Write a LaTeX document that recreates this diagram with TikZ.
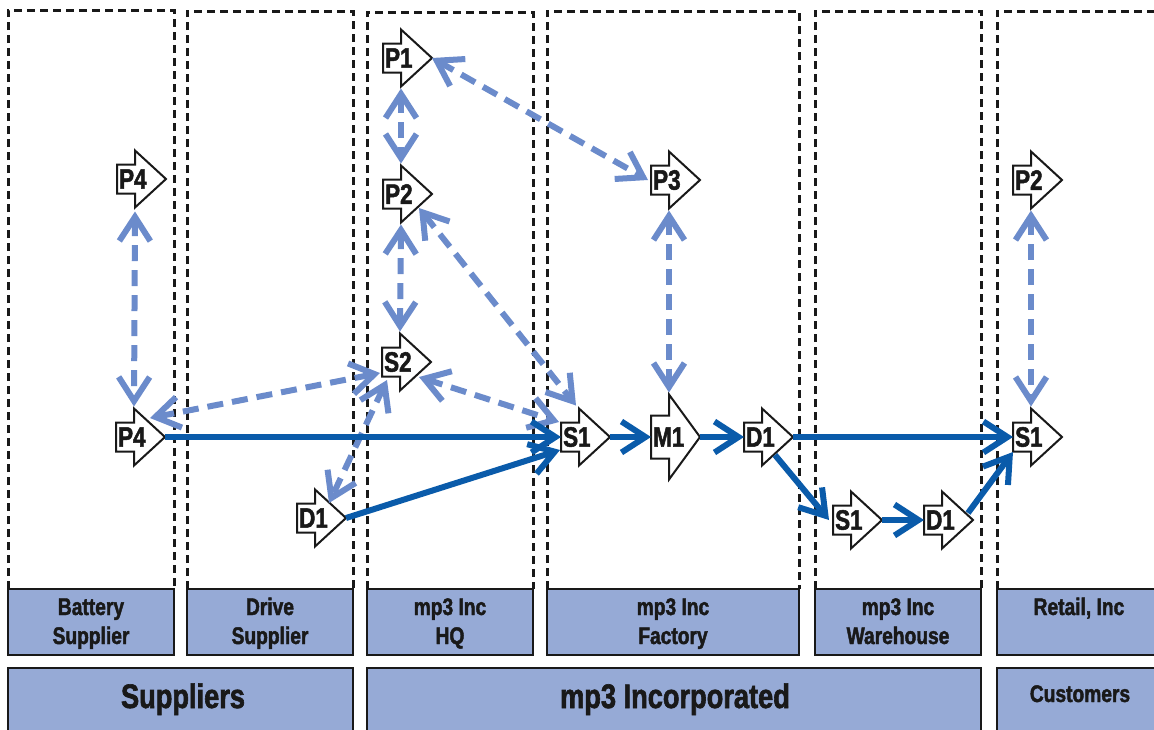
\documentclass[tikz,border=0pt]{standalone}
\usepackage{fontspec}
\usetikzlibrary{arrows.meta,calc}
\newfontfamily\condfont[FakeStretch=0.80,FakeBold=1.8]{Liberation Sans}

\definecolor{lane}{HTML}{96AAD6}
\definecolor{flowdark}{HTML}{0A5BAA}
\definecolor{flowlight}{HTML}{6B8BCB}

\tikzset{
  column/.style={draw=black!90, line width=3pt, dash pattern=on 8pt off 5pt},
  lanebox/.style={draw=black!90, line width=2.8pt, fill=lane},
  lab/.style={font=\condfont\bfseries\fontsize{24}{24}\selectfont, anchor=base, inner sep=0pt, text=black!90},
  biglab/.style={font=\condfont\bfseries\fontsize{34}{34}\selectfont, anchor=base, inner sep=0pt, text=black!90},
  procbox/.style={minimum width=49pt, minimum height=57pt, inner sep=0pt, outer sep=0pt},
  proctext/.style={font=\condfont\bfseries\fontsize{28}{28}\selectfont, anchor=west, inner sep=0pt, text=black!90},
  procline/.style={draw=black!90, fill=white, line width=2pt, line join=miter},
  barb/.tip={Straight Barb[length=24pt, width=31pt, sharp]},
  mainflow/.style={draw=flowdark, line width=6pt, -barb},
  infoflow/.style={draw=flowlight, line width=6pt, dash pattern=on 16pt off 9pt, barb-barb},
}

% process symbol: #1 head half height, #2 body half height, #3 name, #4 centre, #5 text
\newcommand\proc[5]{%
  \node[procbox, minimum height=2*#1 pt] (#3) at (#4) {};
  \draw[procline] ($(#3.west)+(0,-#2)$) -- ($(#3.west)+(18,-#2)$) -- ($(#3.west)+(18,-#1)$)
    -- (#3.east) -- ($(#3.west)+(18,#1)$) -- ($(#3.west)+(18,#2)$) -- ($(#3.west)+(0,#2)$) -- cycle;
  \node[proctext] (#3-t) at ($(#3.west)+(2,0)$) {#5};
  \coordinate (#3-n) at ($(#3.west)+(18,-#1)$);
  \coordinate (#3-s) at ($(#3.west)+(18,#1)$);
}

\begin{document}
\begin{tikzpicture}[x=1pt, y=-1pt]
\useasboundingbox (0,0) rectangle (1154,729);
\clip (0,0) rectangle (1154,729);

% swim lanes
\draw[column] (8,589) -- (8,10) -- (174,10) -- (174,589);
\draw[column] (187,589) -- (187,11) -- (353,11) -- (353,589);
\draw[column] (367,589) -- (367,12) -- (533,12) -- (533,589);
\draw[column] (547,589) -- (547,11) -- (799,11) -- (799,589);
\draw[column] (815,589) -- (815,11) -- (981,11) -- (981,589);
\draw[column] (997,589) -- (997,11) -- (1170,11);

% lane titles
\draw[lanebox] (8,589) rectangle (174,655);
\draw[lanebox] (187,589) rectangle (353,655);
\draw[lanebox] (367,589) rectangle (533,655);
\draw[lanebox] (547,589) rectangle (799,655);
\draw[lanebox] (815,589) rectangle (981,655);
\draw[lanebox] (997,589) rectangle (1170,655);
\node[lab] (t1a) at (91,615) {Battery};
\node[lab] (t1b) at (91,644) {Supplier};
\node[lab] (t2a) at (270,615) {Drive};
\node[lab] (t2b) at (270,644) {Supplier};
\node[lab] (t3a) at (450,615) {mp3 Inc};
\node[lab] (t3b) at (450,644) {HQ};
\node[lab] (t4a) at (673,615) {mp3 Inc};
\node[lab] (t4b) at (673,644) {Factory};
\node[lab] (t5a) at (898,615) {mp3 Inc};
\node[lab] (t5b) at (898,644) {Warehouse};
\node[lab] (t6a) at (1079,615) {Retail, Inc};

% organisations
\draw[lanebox] (8,668) rectangle (353,740);
\draw[lanebox] (367,668) rectangle (981,740);
\draw[lanebox] (997,668) rectangle (1170,740);
\node[biglab] (o1) at (183,708) {Suppliers};
\node[biglab] (o2) at (675,708) {mp3 Incorporated};
\node[lab] (o3) at (1080,702) {Customers};

% process steps
\proc{28.5}{14.5}{bP4a}{141.5,179}{P4}
\proc{28.5}{14.5}{bP4b}{140.5,437}{P4}
\proc{28.5}{14.5}{dD1}{321.5,518}{D1}
\proc{28.5}{14.5}{hP1}{407.5,58}{P1}
\proc{28.5}{14.5}{hP2}{407.5,194}{P2}
\proc{28.5}{14.5}{hS2}{406.5,362}{S2}
\proc{28.5}{14.5}{fP3}{675.5,180}{P3}
\proc{28.5}{14.5}{fS1}{585.5,437}{S1}
\proc{42.5}{21.5}{fM1}{675.5,437}{M1}
\proc{28.5}{14.5}{fD1}{768.5,437}{D1}
\proc{28.5}{14.5}{wS1}{857.5,520}{S1}
\proc{28.5}{14.5}{wD1}{948.5,520}{D1}
\proc{28.5}{14.5}{rS1}{1037.5,437}{S1}
\proc{28.5}{14.5}{rP2}{1037.5,180}{P2}

% planning and sourcing links
\draw[infoflow] ($(bP4a-s)+(0,4)$) -- ($(bP4b-n)+(0,-2)$);
\draw[infoflow] ($(hP1-s)+(0,2)$) -- ($(hP2-n)+(0,-2)$);
\draw[infoflow] (hP1.east) -- ($(fP3.west)+(-3,0)$);
\draw[infoflow] ($(hP2-s)+(0,2)$) -- ($(hS2-n)+(0,-2)$);
\draw[infoflow] ($(hP2.east)+(-13,14)$) -- ($(fS1-n)+(-3,-3)$);
\draw[infoflow] ($(hS2.east)+(-12,15)$) -- ($(fS1.west)+(-2,-15)$);
\draw[infoflow] ($(bP4b.east)+(-15,-19)$) -- ($(hS2.west)+(-2,11)$);
\draw[infoflow] ($(hS2.west)+(5,18)$) -- ($(dD1.east)+(-17,-15)$);
\draw[infoflow] ($(fP3-s)+(0,2)$) -- ($(fM1-n)+(0,-2)$);
\draw[infoflow] ($(rP2-s)+(0,2)$) -- ($(rS1-n)+(0,-2)$);

% material flow
\draw[mainflow] (bP4b.east) -- (fS1.west);
\draw[mainflow] (dD1.east) -- ($(fS1.west)+(-1,13)$);
\draw[mainflow] (fS1.east) -- (fM1.west);
\draw[mainflow] (fM1.east) -- (fD1.west);
\draw[mainflow] (fD1.east) -- (rS1.west);
\draw[mainflow] ($(fD1.east)+(-18,18)$) -- ($(wS1.west)+(-4,0)$);
\draw[mainflow] (wS1.east) -- (wD1.west);
\draw[mainflow] ($(wD1.east)+(-5,-7)$) -- ($(rS1.west)+(0,15)$);
\end{tikzpicture}
\end{document}
